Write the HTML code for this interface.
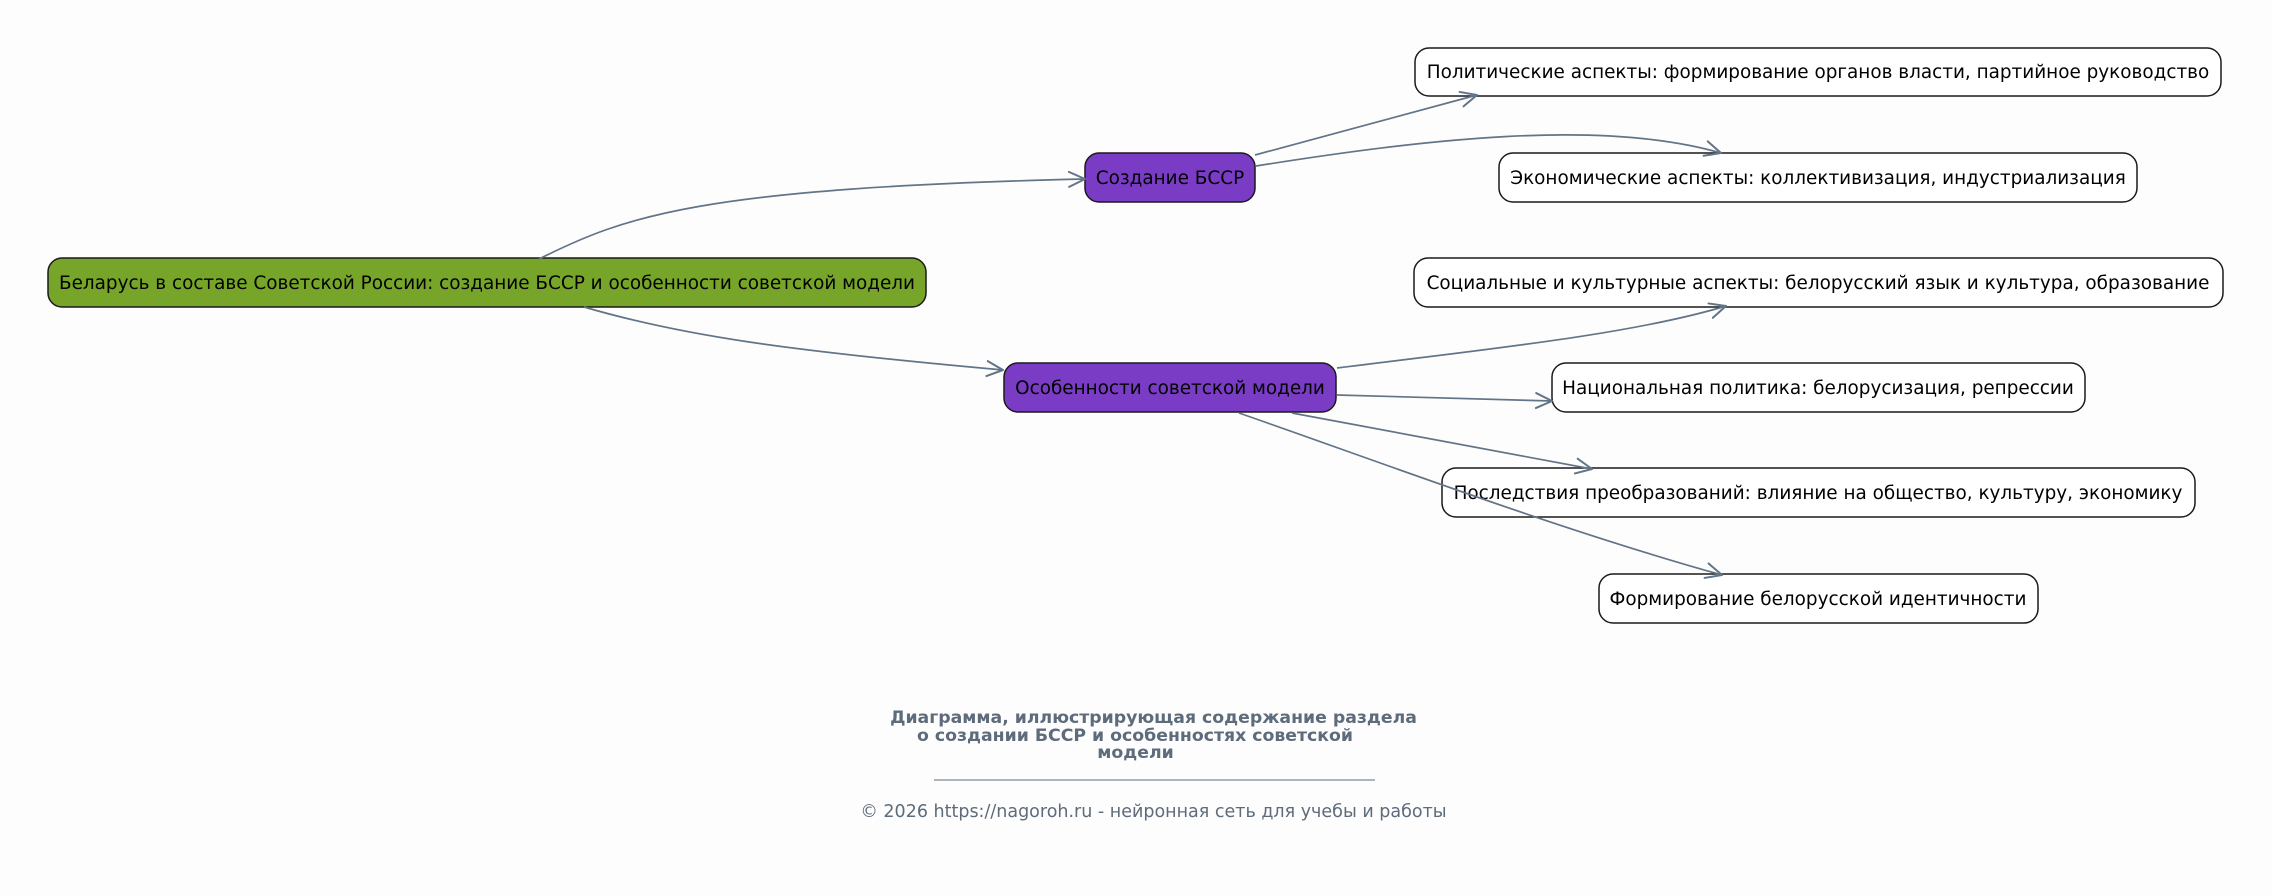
<!DOCTYPE html>
<html>
<head>
<meta charset="utf-8">
<style>
  html, body { margin: 0; padding: 0; background: #fdfdfd; }
  body { width: 2272px; height: 896px; overflow: hidden; }
  svg { display: block; }
  .nt { font-family: "DejaVu Sans", "Liberation Sans", sans-serif; font-size: 18.4px; fill: #000; }
  .ft { font-family: "DejaVu Sans", "Liberation Sans", sans-serif; fill: #5d6b7b; }
</style>
</head>
<body>
<svg width="2272" height="896" viewBox="0 0 2272 896" xmlns="http://www.w3.org/2000/svg">
  <defs>
    <marker id="ah" markerUnits="userSpaceOnUse" viewBox="0 0 18 18" refX="17" refY="9" markerWidth="18" markerHeight="18" orient="auto">
      <path d="M1,1.5 L17,9 L1,16.5" fill="none" stroke="#627487" stroke-width="2" stroke-linecap="round" stroke-linejoin="round"/>
    </marker>
  </defs>
  <rect x="0" y="0" width="2272" height="896" fill="#fdfdfd"/>

  <!-- nodes -->
  <g stroke="#1a1a1a" stroke-width="1.5">
    <rect x="48" y="258" width="878" height="49" rx="14" fill="#76a52a"/>
    <rect x="1085" y="153" width="170" height="49" rx="14" fill="#7a3bc5"/>
    <rect x="1004" y="363" width="332" height="49" rx="14" fill="#7a3bc5"/>
    <rect x="1415" y="48" width="806" height="48" rx="14" fill="#ffffff"/>
    <rect x="1499" y="153" width="638" height="49" rx="14" fill="#ffffff"/>
    <rect x="1414" y="258" width="809" height="49" rx="14" fill="#ffffff"/>
    <rect x="1552" y="363" width="533" height="49" rx="14" fill="#ffffff"/>
    <rect x="1442" y="468" width="753" height="49" rx="14" fill="#ffffff"/>
    <rect x="1599" y="574" width="439" height="49" rx="14" fill="#ffffff"/>
  </g>

  <g class="nt" text-anchor="middle">
    <text x="487" y="289">Беларусь в составе Советской России: создание БССР и особенности советской модели</text>
    <text x="1170" y="184">Создание БССР</text>
    <text x="1170" y="394">Особенности советской модели</text>
    <text x="1818" y="78">Политические аспекты: формирование органов власти, партийное руководство</text>
    <text x="1818" y="184">Экономические аспекты: коллективизация, индустриализация</text>
    <text x="1818" y="289">Социальные и культурные аспекты: белорусский язык и культура, образование</text>
    <text x="1818" y="394">Национальная политика: белорусизация, репрессии</text>
    <text x="1818" y="499">Последствия преобразований: влияние на общество, культуру, экономику</text>
    <text x="1818" y="605">Формирование белорусской идентичности</text>
  </g>

  <!-- edges -->
  <g fill="none" stroke="#627487" stroke-width="1.7" marker-end="url(#ah)">
    <path d="M539,259 C 625,216 700,188 1085,179"/>
    <path d="M584,307 C 680,335 780,350 1003,370"/>
    <path d="M1255,155 L1477,95"/>
    <path d="M1256,166 C 1420,140 1600,118 1721,153"/>
    <path d="M1337,368 C 1480,350 1630,335 1726,306"/>
    <path d="M1337,395 L1552,401"/>
    <path d="M1292,413 L1592,469"/>
    <path d="M1239,413 C 1380,462 1560,530 1722,575"/>
  </g>

  <!-- footer -->
  <g class="ft" text-anchor="middle" font-weight="bold" font-size="17.3">
    <text x="1153.5" y="723">Диаграмма, иллюстрирующая содержание раздела</text>
    <text x="1135" y="741">о создании БССР и особенностях советской</text>
    <text x="1135.5" y="758">модели</text>
  </g>
  <line x1="934" y1="780" x2="1375" y2="780" stroke="#5d6b7b" stroke-width="1"/>
  <text class="ft" x="1153.5" y="817" text-anchor="middle" font-size="17.5">© 2026 https://nagoroh.ru - нейронная сеть для учебы и работы</text>
</svg>
</body>
</html>
